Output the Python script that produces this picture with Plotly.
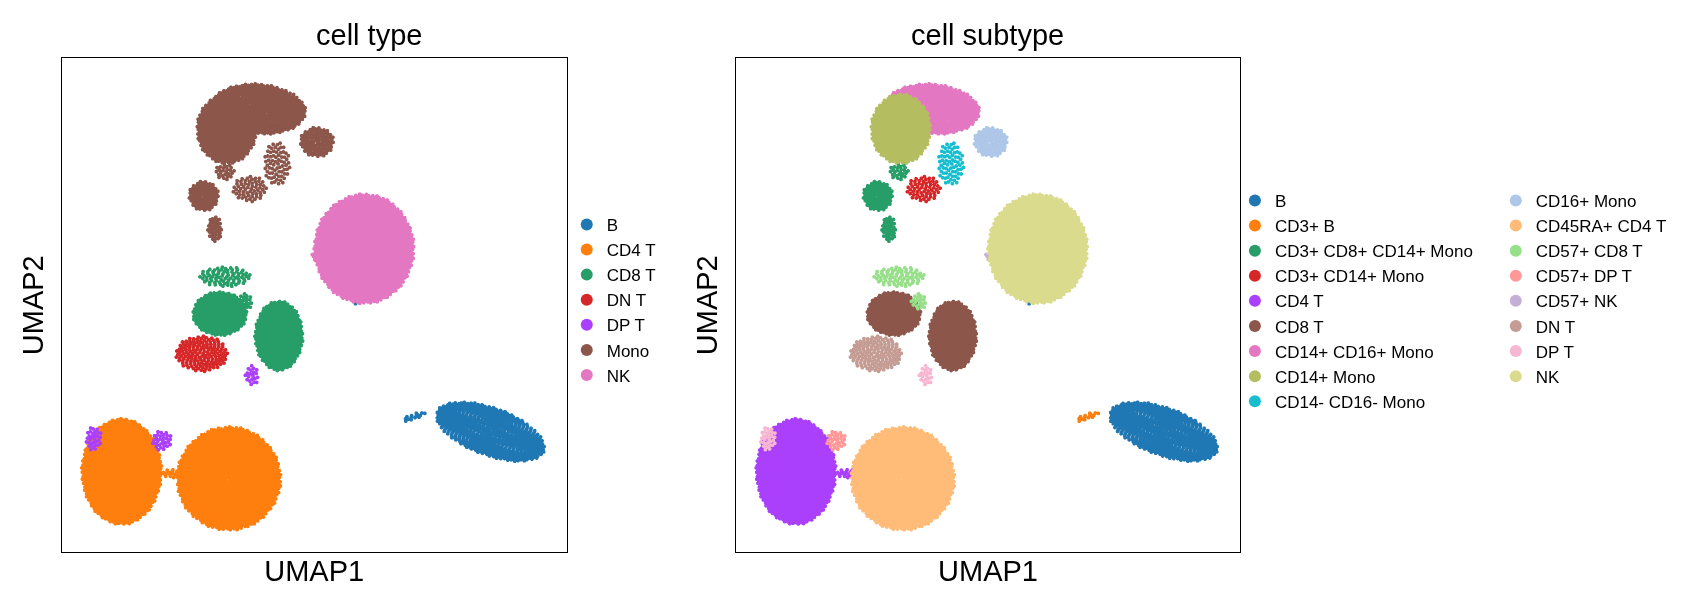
import numpy as np
import plotly.graph_objects as go

# blob centres / radii (pixels inside the plot box, y up)
blob_type = ["B", "B", "B", "CD4 T", "CD4 T", "CD4 T", "DP T", "DP T", "DP T",
             "CD8 T", "CD8 T", "CD8 T", "CD8 T", "DN T", "NK", "NK",
             "Mono", "Mono", "Mono", "Mono", "Mono", "Mono", "Mono", "Mono"]
blob_sub = ["B", "B", "CD3+ B", "CD4 T", "CD45RA+ CD4 T", "CD4 T", "DP T", "DP T", "CD57+ DP T",
            "CD8 T", "CD8 T", "CD57+ CD8 T", "CD57+ CD8 T", "DN T", "NK", "CD57+ NK",
            "CD14+ Mono", "CD14+ CD16+ Mono", "CD16+ Mono", "CD14- CD16- Mono",
            "CD3+ CD14+ Mono", "CD3+ CD8+ CD14+ Mono", "CD3+ CD8+ CD14+ Mono", "CD3+ CD8+ CD14+ Mono"]
blob_x = [428, 292, 352, 60, 167, 117, 32, 190, 100,
          158, 217, 163, 183, 140, 302, 280,
          165, 197, 255, 215, 188, 142, 153, 163]
blob_y = [121, 249, 136, 81, 74, 79, 114, 177, 112,
          239, 217, 276, 251, 199, 304, 306,
          424, 444, 411, 389, 364, 357, 324, 381]
blob_rx = [57, 2, 12, 40, 52, 18, 8, 7, 10,
           27, 24, 26, 8, 26, 50, 32,
           30, 47, 17, 13, 17, 15, 7, 10]
blob_ry = [24, 2, 3, 53, 52, 5, 12, 10, 10,
           22, 35, 10, 8, 18, 55, 10,
           35, 25, 15, 22, 13, 15, 13, 8]
blob_angle = [-20, 0, 20, 0, 0, 0, 0, 0, 0,
              0, 0, 0, 0, 0, 0, 20,
              0, -5, 0, 0, 0, 0, 0, 0]
blob_n = [700, 1, 15, 1100, 1200, 40, 30, 20, 30,
          350, 450, 80, 20, 150, 1300, 120,
          500, 600, 100, 70, 60, 100, 40, 25]

type_names = ["B", "CD4 T", "CD8 T", "DN T", "DP T", "Mono", "NK"]
type_colors = ["#1f77b4", "#ff7f0e", "#279e68", "#d62728", "#aa40fc", "#8c564b", "#e377c2"]

sub_names = ["B", "CD3+ B", "CD3+ CD8+ CD14+ Mono", "CD3+ CD14+ Mono", "CD4 T", "CD8 T",
             "CD14+ CD16+ Mono", "CD14+ Mono", "CD14- CD16- Mono", "CD16+ Mono",
             "CD45RA+ CD4 T", "CD57+ CD8 T", "CD57+ DP T", "CD57+ NK", "DN T", "DP T", "NK"]
sub_colors = ["#1f77b4", "#ff7f0e", "#279e68", "#d62728", "#aa40fc", "#8c564b",
              "#e377c2", "#b5bd61", "#17becf", "#aec7e8",
              "#ffbb78", "#98df8a", "#ff9896", "#c5b0d5", "#c49c94", "#f7b6d2", "#dbdb8d"]

# spread cells over each blob (sunflower layout, deterministic)
xs, ys, ct, cs = [], [], [], []
golden = np.pi * (3 - np.sqrt(5))
for i in range(len(blob_n)):
    n = blob_n[i]
    k = np.arange(n)
    r = np.sqrt((k + 0.5) / n)
    th = k * golden
    px_ = r * np.cos(th) * blob_rx[i]
    py_ = r * np.sin(th) * blob_ry[i]
    a = np.deg2rad(blob_angle[i])
    xs += list(blob_x[i] + px_ * np.cos(a) - py_ * np.sin(a))
    ys += list(blob_y[i] + px_ * np.sin(a) + py_ * np.cos(a))
    ct += [blob_type[i]] * n
    cs += [blob_sub[i]] * n
xs, ys, ct, cs = np.array(xs), np.array(ys), np.array(ct), np.array(cs)

fig = go.Figure()
for name, col in zip(type_names, type_colors):
    m = ct == name
    fig.add_trace(go.Scattergl(x=xs[m], y=ys[m], mode="markers", name=name,
                               marker=dict(color=col, size=4), legend="legend",
                               xaxis="x", yaxis="y"))
for j, (name, col) in enumerate(zip(sub_names, sub_colors)):
    m = cs == name
    fig.add_trace(go.Scattergl(x=xs[m], y=ys[m], mode="markers", name=name,
                               marker=dict(color=col, size=4),
                               legend="legend2" if j < 9 else "legend3",
                               xaxis="x2", yaxis="y2"))

ax = dict(showticklabels=False, ticks="", showgrid=False, zeroline=False,
          showline=True, linecolor="black", linewidth=1.3, mirror=True,
          title_font=dict(size=29, color="black"), title_standoff=8)
leg = dict(font=dict(size=17, color="black", family="Liberation Sans, Arial"),
           itemsizing="constant", tracegroupgap=0, bgcolor="rgba(0,0,0,0)",
           yanchor="top", xanchor="left")

fig.update_layout(
    width=1683, height=599, margin=dict(l=0, r=0, t=0, b=0),
    plot_bgcolor="white", paper_bgcolor="white",
    font=dict(family="Liberation Sans, Arial", color="black"),
    xaxis=dict(ax, domain=[0.0319, 0.332], range=[0, 504], anchor="y", title_text="UMAP1"),
    yaxis=dict(ax, domain=[0.0918, 0.9157], range=[0, 494], anchor="x", title_text="UMAP2"),
    xaxis2=dict(ax, domain=[0.4326, 0.732], range=[0, 504], anchor="y2", title_text="UMAP1"),
    yaxis2=dict(ax, domain=[0.0918, 0.9157], range=[0, 494], anchor="x2", title_text="UMAP2"),
    legend=dict(leg, x=0.332, y=0.668),
    legend2=dict(leg, x=0.729, y=0.708),
    legend3=dict(leg, x=0.884, y=0.708),
    annotations=[
        dict(text="cell type", x=0.182, y=0.925, xref="paper", yref="paper",
             showarrow=False, yanchor="bottom", font=dict(size=29)),
        dict(text="cell subtype", x=0.582, y=0.925, xref="paper", yref="paper",
             showarrow=False, yanchor="bottom", font=dict(size=29)),
    ],
)

fig.write_html("out.html")
